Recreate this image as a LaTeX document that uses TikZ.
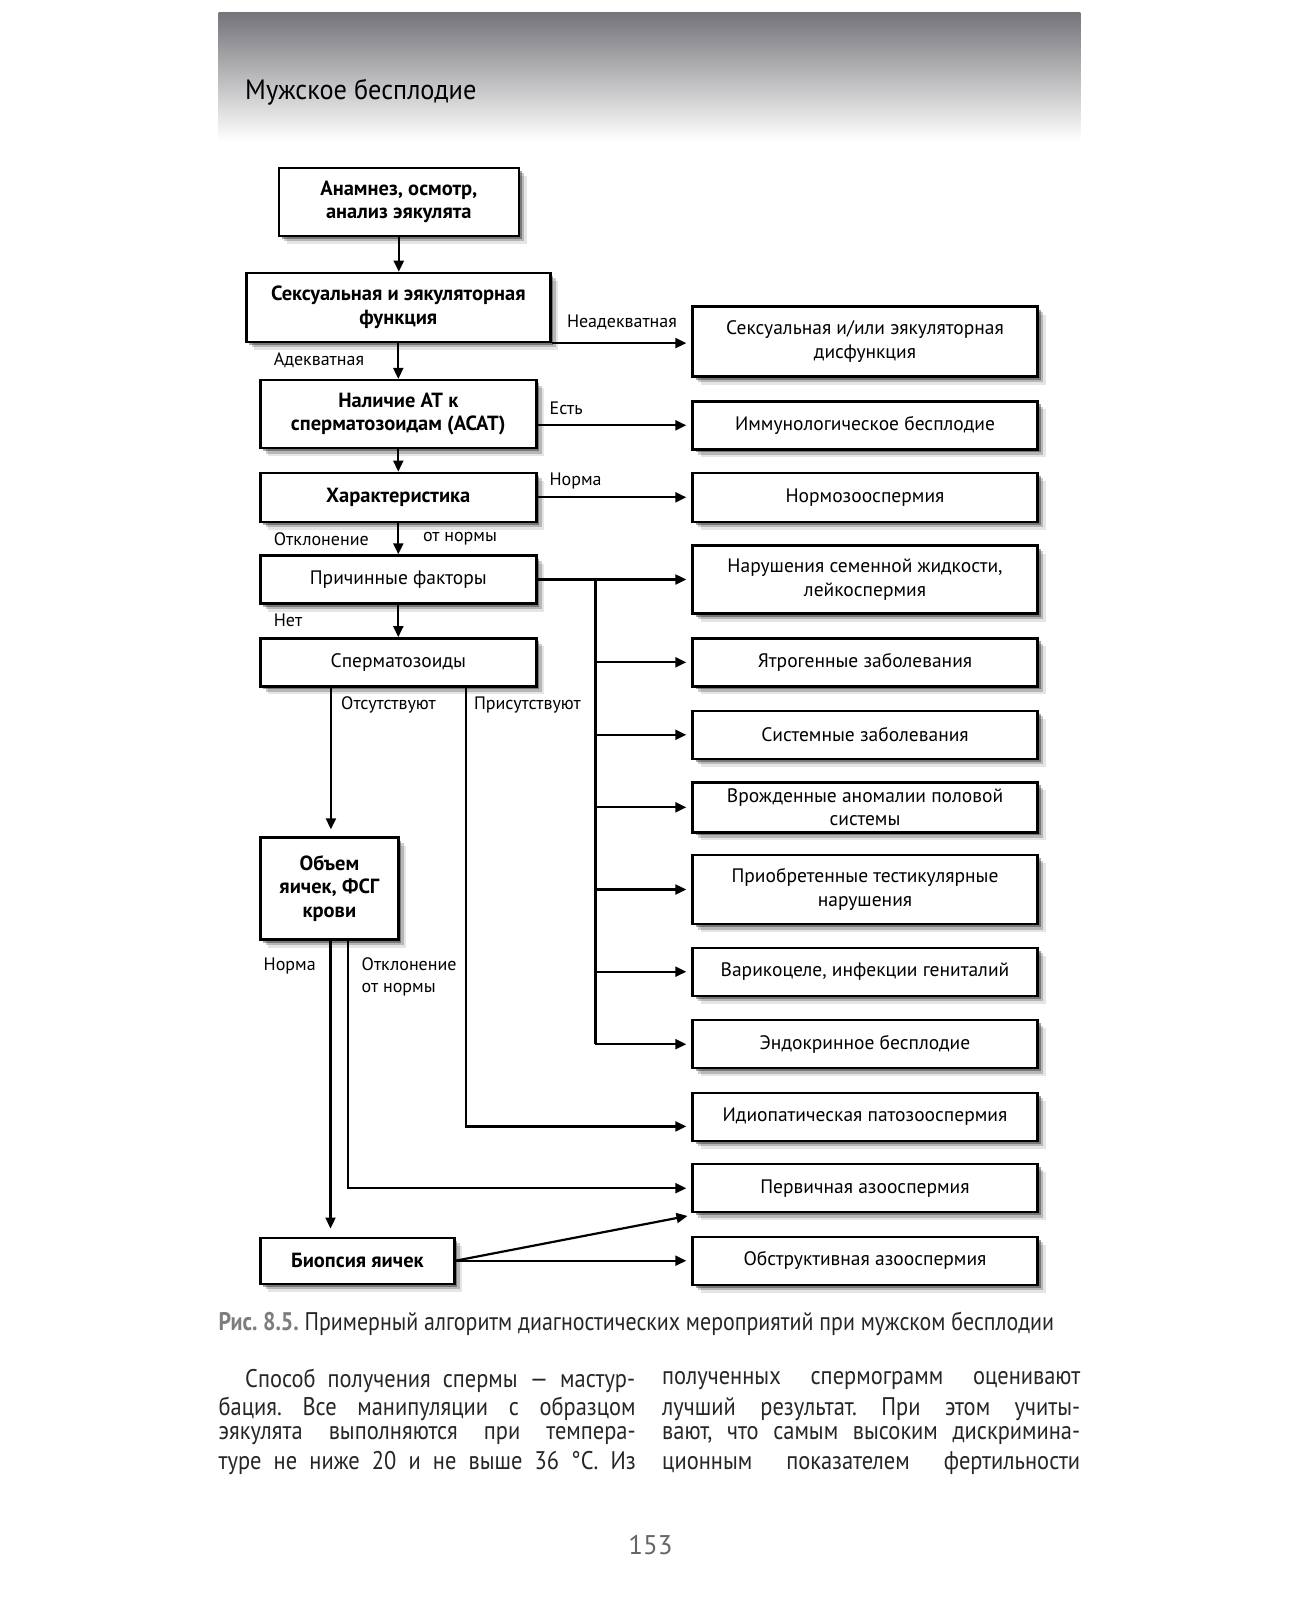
\documentclass[tikz,border=0pt]{standalone}
\usepackage{fontspec}
\setmainfont{PT Sans}
\newfontfamily\condfont{PT Sans}[FakeStretch=0.86]
\newfontfamily\parafont{PT Sans}[FakeStretch=0.88]
\newfontfamily\titlefont{PT Sans}[FakeStretch=0.94]
\usetikzlibrary{arrows.meta,shadows,calc}
\definecolor{headtop}{RGB}{116,116,121}
\definecolor{capgray}{RGB}{125,125,125}
\frenchspacing
\tikzset{
  box/.style={draw, line width=2.4pt, fill=white, inner sep=0pt, align=center,
    font=\fontsize{19.5}{23.5}\selectfont,
    drop shadow={shadow xshift=8pt, shadow yshift=-8pt, opacity=.10, fill=black},
    drop shadow={shadow xshift=5.5pt, shadow yshift=-5.5pt, opacity=.20, fill=black},
    drop shadow={shadow xshift=3pt, shadow yshift=-3pt, opacity=.35, fill=black}},
  bbox/.style={box, font=\bfseries\fontsize{20.5}{23.5}\selectfont},
  rbox/.style={box, minimum width=345pt},
  lbl/.style={font=\fontsize{18}{21.5}\selectfont, inner sep=0pt, anchor=west, align=left},
  arr/.style={line width=2.2pt, -{Triangle[length=11pt,width=10pt]}},
  harr/.style={arr, shorten >=5pt},
  ln/.style={line width=2.2pt},
  para/.style={font=\parafont\fontsize{25.5}{27}\selectfont\frenchspacing, text=black!85, inner sep=0pt, anchor=west},
}
\begin{document}
\begin{tikzpicture}[x=1pt,y=-1pt]
\useasboundingbox (0,0) rectangle (1298,1601);
\fill[white] (0,0) rectangle (1298,1601);
% header
\shade[top color=headtop, bottom color=white] (218.5,12.3) rectangle (1080.4,141);
\node[anchor=west, inner sep=0pt, font=\titlefont\fontsize{28}{32}\selectfont] (title) at (245,92) {Мужское бесплодие};

% left column boxes
\node[bbox, minimum width=240pt, minimum height=68pt] (b1) at (398.8,201.7) {Анамнез, осмотр,\\ анализ эякулята};
\node[bbox, minimum width=304pt, minimum height=69pt] (b2) at (398.3,307.4) {Сексуальная и эякуляторная\\ функция};
\node[bbox, minimum width=276pt, minimum height=68pt] (b3) at (398.3,414.1) {Наличие АТ к\\ сперматозоидам (АСАТ)};
\node[bbox, minimum width=276pt, minimum height=49pt] (b4) at (398.3,497.3) {Характеристика};
\node[box, minimum width=276pt, minimum height=48pt] (b5) at (398.3,579.5) {Причинные факторы};
\node[box, minimum width=276pt, minimum height=48pt] (b6) at (398.3,662.3) {Сперматозоиды};
\node[bbox, minimum width=138pt, minimum height=102pt] (b7) at (329.4,888.5) {Объем\\ яичек, ФСГ\\ крови};
\node[bbox, minimum width=194pt, minimum height=46pt] (b8) at (357.4,1260.7) {Биопсия яичек};

% right column boxes
\node[rbox, minimum height=70pt] (r1) at (865,341.6) {Сексуальная и/или эякуляторная\\ дисфункция};
\node[rbox, minimum height=48pt] (r2) at (865,425.3) {Иммунологическое бесплодие};
\node[rbox, minimum height=49pt] (r3) at (865,497.3) {Нормозооспермия};
\node[rbox, minimum height=68pt] (r4) at (865,579.5) {Нарушения семенной жидкости,\\ лейкоспермия};
\node[rbox, minimum height=48pt] (r5) at (865,662.3) {Ятрогенные заболевания};
\node[rbox, minimum height=48pt] (r6) at (865,734.8) {Системные заболевания};
\node[rbox, minimum height=50pt] (r7) at (865,807.3) {Врожденные аномалии половой\\ системы};
\node[rbox, minimum height=69pt] (r8) at (865,889.5) {Приобретенные тестикулярные\\ нарушения};
\node[rbox, minimum height=48pt] (r9) at (865,971.7) {Варикоцеле, инфекции гениталий};
\node[rbox, minimum height=48pt] (r10) at (865,1044.2) {Эндокринное бесплодие};
\node[rbox, minimum height=48pt] (r11) at (865,1116.7) {Идиопатическая патозооспермия};
\node[rbox, minimum height=48pt] (r12) at (865,1188.2) {Первичная азооспермия};
\node[rbox, minimum height=48pt] (r13) at (865,1260.7) {Обструктивная азооспермия};

% main spine
\draw[arr] (b1.south) -- (b1.south |- b2.north);
\draw[arr] (b2.south) -- (b2.south |- b3.north);
\draw[arr] (b3.south) -- (b3.south |- b4.north);
\draw[arr] (b4.south) -- (b4.south |- b5.north);
\draw[arr] (b5.south) -- (b5.south |- b6.north);

% to the right
\draw[harr] (b2.south east) -- (b2.south east -| r1.west);
\draw[harr] (b3.east |- r2.west) -- (r2.west);
\draw[harr] (b4.east) -- (r3.west);
\draw[harr] (b5.east) -- (r4.west);
\coordinate (bus) at (595.4,579.5);
\draw[ln] (bus) -- (bus |- r10.west);
\foreach \r in {r5,r6,r7,r8,r9,r10}{\draw[harr] (bus |- \r.west) -- (\r.west);}

% from Сперматозоиды
\coordinate (k67) at (330.9,0);
\draw[arr, shorten >=7pt] (k67 |- b6.south) -- (k67 |- b7.north);
\coordinate (k11) at (465.7,1126.4);
\draw[harr] (k11 |- b6.south) -- (k11) -- (k11 -| r11.west);

% from Объем яичек
\coordinate (k78) at (330.5,0);
\draw[arr, shorten >=8pt] (k78 |- b7.south) -- (k78 |- b8.north);
\coordinate (k12) at (348.3,0);
\draw[harr] (k12 |- b7.south) -- (k12 |- r12.west) -- (r12.west);

% from Биопсия
\coordinate (d12) at (692.4,1215);
\draw[harr] (b8.east) -- (d12);
\draw[harr] (b8.east) -- (r13.west);

% labels
\node[lbl] (l1) at (566.8,322.7) {Неадекватная};
\node[lbl] (l2) at (273.7,360.5) {Адекватная};
\node[lbl] (l3) at (549.4,408.5) {Есть};
\node[lbl] (l4) at (549.4,481) {Норма};
\node[lbl] (l5) at (273.7,539) {Отклонение};
\node[lbl] (l6) at (422.8,539) {от нормы};
\node[lbl] (l7) at (273.7,619.9) {Нет};
\node[lbl] (l8) at (341,704.6) {Отсутствуют};
\node[lbl] (l9) at (473.8,704.6) {Присутствуют};
\node[lbl] (l10) at (263.5,966) {Норма};
\node[lbl] (l11) at (361.5,976.7) {Отклонение\\от нормы};

% caption
\node[anchor=west, inner sep=0pt, text=black!85, font=\condfont\fontsize{25.5}{28}\selectfont] (cap) at (218.5,1323.5)
  {\textcolor{capgray}{\bfseries Рис. 8.5.} Примерный алгоритм диагностических мероприятий при мужском бесплодии};

% paragraph
\node[para] (pl1) at (245,1380.7) {\makebox[390pt][s]{Способ получения спермы — мастур-}};
\node[para] (pl2) at (218.5,1409.3) {\makebox[417pt][s]{бация. Все манипуляции с образцом}};
\node[para] (pl3) at (218.5,1435.8) {\makebox[417pt][s]{эякулята выполняются при темпера-}};
\node[para] (pl4) at (218.5,1463.4) {\makebox[417pt][s]{туре не ниже 20 и не выше 36 °C. Из}};
\node[para] (pr1) at (662,1380.7) {\makebox[418pt][s]{полученных спермограмм оценивают}};
\node[para] (pr2) at (662,1409.3) {\makebox[418pt][s]{лучший результат. При этом учиты-}};
\node[para] (pr3) at (662,1435.8) {\makebox[418pt][s]{вают, что самым высоким дискримина-}};
\node[para] (pr4) at (662,1463.4) {\makebox[418pt][s]{ционным показателем фертильности}};

\node[inner sep=0pt, text=black!60, font=\fontsize{27}{30}\selectfont] (pg) at (650.5,1545) {153};
\end{tikzpicture}
\end{document}
